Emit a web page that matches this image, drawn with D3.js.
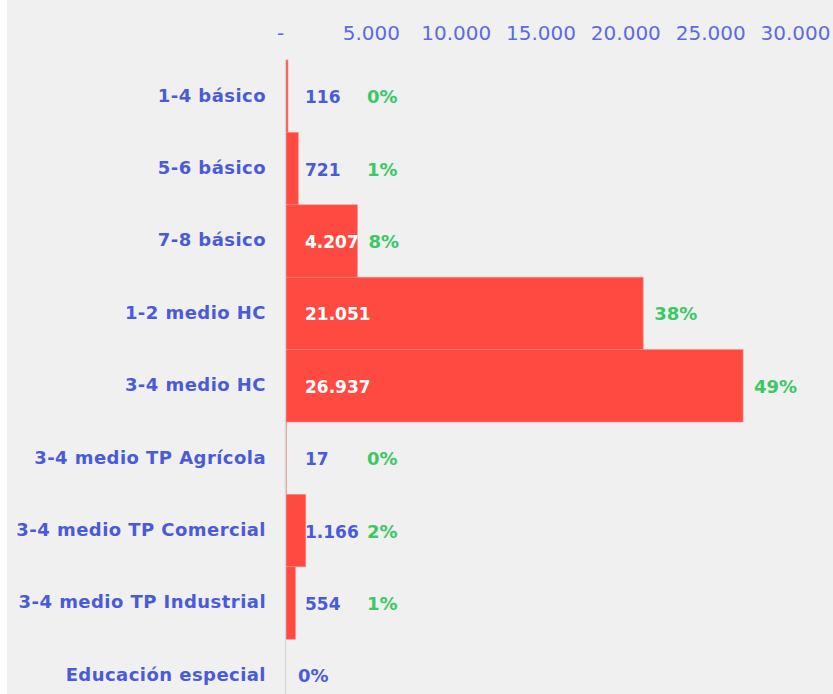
<!DOCTYPE html>
<html>
<head>
<meta charset="utf-8">
<script src="https://cdn.jsdelivr.net/npm/d3@7"></script>
<style>
  body { margin: 0; background: #fff; }
  svg { display: block; }
  .axis text { font-family: "DejaVu Sans", Verdana, sans-serif; }
</style>
</head>
<body>
<div id="d3-container"></div>
<script>
const width = 833,
  height = 694,
  margin = { top: 60, left: 286, right: 38 };

// data
const categories = [
  "1-4 básico",
  "5-6 básico",
  "7-8 básico",
  "1-2 medio HC",
  "3-4 medio HC",
  "3-4 medio TP Agrícola",
  "3-4 medio TP Comercial",
  "3-4 medio TP Industrial",
  "Educación especial"
];
const values = [116, 721, 4207, 21051, 26937, 17, 1166, 554, 0];
const tickValues = [0, 5000, 10000, 15000, 20000, 25000, 30000];

const blue = "#4a5bd9",
  green = "#3cc864",
  red = "#ff4a42";

const locale = d3.formatLocale({ decimal: ",", thousands: ".", grouping: [3], currency: ["$", ""] });
const fmt = locale.format(",d");
const total = d3.sum(values);

const data = categories.map((c, i) => ({ cat: c, value: values[i], pct: values[i] / total }));

const svg = d3
  .select("#d3-container")
  .append("svg")
  .attr("width", width)
  .attr("height", height);

// grey panel
svg.append("rect")
  .attr("x", 7).attr("y", 0)
  .attr("width", width - 7).attr("height", height)
  .attr("fill", "#f0f0f0");

const xScale = d3.scaleLinear()
  .domain([0, 30000])
  .range([margin.left, width - margin.right]);

const yScale = d3.scaleBand()
  .domain(categories)
  .range([margin.top, margin.top + 72.4 * categories.length])
  .padding(0);

// top axis
const xAxis = d3.axisTop(xScale)
  .tickValues(tickValues)
  .tickSize(0)
  .tickFormat(d => d === 0 ? "-" : fmt(d));

const gx = svg.append("g")
  .attr("class", "axis x-axis")
  .attr("transform", `translate(0,40)`)
  .call(xAxis);
gx.select(".domain").remove();
gx.selectAll("text")
  .attr("y", 0)
  .attr("fill", "#5b6be0")
  .style("font-size", "20px")
  .attr("dx", d => d === 0 ? -6 : 0);

// bars
svg.selectAll(".bar")
  .data(data)
  .join("rect")
  .attr("class", "bar")
  .attr("x", xScale(0))
  .attr("y", d => yScale(d.cat))
  .attr("width", d => xScale(d.value) - xScale(0))
  .attr("height", yScale.bandwidth())
  .attr("fill", red)
  .attr("stroke", d => d.value > 0 ? "#ff8580" : "none")
  .attr("stroke-width", 0.6);

// left axis
const yAxis = d3.axisLeft(yScale).tickSize(0).tickPadding(19);
const gy = svg.append("g")
  .attr("class", "axis y-axis")
  .attr("transform", `translate(${margin.left - 1},0)`)
  .call(yAxis);
gy.select(".domain")
  .attr("stroke", "#d6d6d6")
  .attr("stroke-width", 1.2);
gy.selectAll("text")
  .attr("fill", blue)
  .attr("dy", "0.3em")
  .style("font-size", "18px")
  .style("letter-spacing", "0.45px")
  .style("font-weight", "bold");

// value labels
const labelX = xScale(0) + 19;
svg.selectAll(".val")
  .data(data.filter(d => d.value > 0))
  .join("text")
  .attr("class", "val")
  .attr("x", labelX)
  .attr("y", d => yScale(d.cat) + yScale.bandwidth() / 2 + 7)
  .attr("fill", d => xScale(d.value) - labelX > 30 ? "#fff" : blue)
  .style("font-family", "'DejaVu Sans', Verdana, sans-serif")
  .style("font-size", "17px")
  .style("font-weight", "bold")
  .text(d => fmt(d.value));

// percentage labels
svg.selectAll(".pct")
  .data(data)
  .join("text")
  .attr("class", "pct")
  .attr("x", d => d.value === 0 ? xScale(0) + 12 : Math.max(xScale(d.value) + 11, 367))
  .attr("y", d => yScale(d.cat) + yScale.bandwidth() / 2 + 7)
  .attr("fill", d => d.value === 0 ? blue : green)
  .style("font-family", "'DejaVu Sans', Verdana, sans-serif")
  .style("font-size", "18px")
  .style("font-weight", "bold")
  .text(d => Math.round(d.pct * 100) + "%");
</script>
</body>
</html>
